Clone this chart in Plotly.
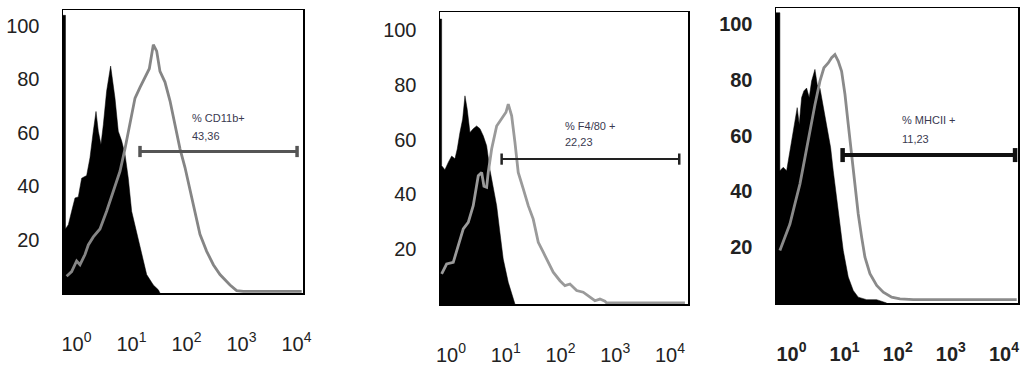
import plotly.graph_objects as go

# ---------------- data (x in decades, i.e. log10 fluorescence; y = % of max) -------------
p1_black_x = [-0.245, -0.2, -0.2, -0.148, -0.088, -0.027, 0.033, 0.094, 0.185, 0.245, 0.306, 0.355, 0.397,
              0.445, 0.488, 0.548, 0.621, 0.70, 0.76, 0.821, 0.882, 0.942, 1.003, 1.094, 1.185,
              1.276, 1.397, 1.488, 1.518]
p1_black_y = [104, 104, 24, 25.6, 30.6, 35.6, 36, 43, 44, 50.6, 60.6, 68, 60.6,
              55.6, 63, 75.6, 85, 73, 60.6, 57, 52, 43, 30.6, 23, 14.4,
              6.9, 3, 1.2, 0]
p1_gray_x = [-0.179, -0.088, 0.003, 0.064, 0.155, 0.215, 0.306, 0.427, 0.548, 0.67, 0.791, 0.882,
             0.973, 1.064, 1.155, 1.245, 1.324, 1.397, 1.458, 1.518, 1.609, 1.70, 1.791, 1.882,
             1.973, 2.064, 2.155, 2.245, 2.367, 2.488, 2.609, 2.791, 2.912, 3.033, 4.094]
p1_gray_y = [6.25, 8, 12, 10.6, 14.4, 18, 21, 24, 30.6, 38, 45.6, 54,
             63, 73, 77, 80.6, 84, 93, 90.6, 83, 79, 72, 63, 54,
             47, 39, 30.6, 22, 15.6, 10.6, 6.9, 3, 0.9, 0.6, 0.6]

p2_black_x = [-0.2, -0.17, -0.17, -0.11, -0.049, 0.013, 0.073, 0.115, 0.164, 0.214, 0.256, 0.298, 0.347,
              0.407, 0.469, 0.53, 0.59, 0.652, 0.712, 0.773, 0.835, 0.895, 0.955, 1.047,
              1.138, 1.169]
p2_black_y = [104, 104, 50.5, 49, 51.7, 54, 53, 56.6, 62.6, 67.5, 76, 71, 62.6,
              64, 65, 64, 61.4, 57.8, 49, 42, 35.9, 26, 16.4, 7.9,
              1.8, 0]
p2_gray_x = [-0.17, -0.079, 0.042, 0.133, 0.225, 0.316, 0.407, 0.499, 0.561, 0.603, 0.652, 0.681,
             0.743, 0.835, 0.926, 1.005, 1.047, 1.109, 1.169, 1.229, 1.321, 1.412, 1.503, 1.595,
             1.686, 1.777, 1.868, 1.991, 2.082, 2.174, 2.296, 2.416, 2.539, 2.63, 2.721, 2.813,
             2.844, 4.274]
p2_gray_y = [11, 14.6, 15.2, 21.3, 27.4, 29.8, 35.9, 46.8, 48, 43, 42.6, 48,
             56.6, 65, 67.5, 70, 73, 68.7, 59, 48, 42, 35.9, 31, 22.5,
             18.9, 15.2, 11.6, 8.5, 6.7, 7.3, 4.9, 4.3, 2.4, 1.2, 1.8, 1.0,
             0.4, 0.4]

p3_black_x = [-0.29, -0.217, -0.217, -0.154, -0.09, -0.041, 0.004, 0.066, 0.109, 0.147, 0.192, 0.235, 0.286,
              0.335, 0.38, 0.443, 0.486, 0.537, 0.599, 0.663, 0.738, 0.787, 0.851, 0.913,
              0.976, 1.07, 1.164, 1.258, 1.416, 1.605, 1.793]
p3_black_y = [104, 104, 47.4, 48.6, 47.4, 53.3, 58, 66.4, 70, 64, 73.6, 76, 77,
              73.6, 79.5, 83.7, 78.3, 77, 70, 64, 55.7, 47.4, 37.9, 28.3,
              18.8, 9.3, 4.5, 2.1, 1.2, 1.2, 0]
p3_gray_x = [-0.217, -0.122, -0.028, 0.066, 0.16, 0.254, 0.348, 0.443, 0.537, 0.612, 0.693, 0.757,
             0.819, 0.881, 0.945, 1.008, 1.07, 1.134, 1.196, 1.258, 1.322, 1.384, 1.478, 1.605,
             1.729, 1.887, 2.043, 2.294, 4.241]
p3_gray_y = [18.8, 23.6, 28.3, 35.5, 42.6, 52, 61.7, 71, 79.5, 84.3, 86, 87.9,
             89, 86.7, 83, 74.8, 64, 53.3, 42.6, 31.9, 23.6, 16.4, 10.5, 6.3,
             3.9, 2.1, 1.5, 1.2, 1.2]

# gates: [start decade, end decade], level, label lines
gate_x = [[1.155, 4.01], [0.926, 4.17], [0.964, 4.21]]
gate_y = [53, 52.9, 53]
gate_labels = [["% CD11b+", "43,36"], ["% F4/80 +", "22,23"], ["% MHCII +", "11,23"]]
label_pos = [[2.06, 65.5, 58.8], [2.05, 65, 59], [2.04, 65.6, 58.8]]

y_ticks = [20, 40, 60, 80, 100]
x_tickvals = [1, 10, 100, 1000, 10000]
x_ticktext = ["10<sup>0</sup>", "10<sup>1</sup>", "10<sup>2</sup>", "10<sup>3</sup>", "10<sup>4</sup>"]

# ---------------- layout geometry (screen pixels) ----------------
W, H = 1024, 368
frames = [(63, 303, 10, 293), (440, 688, 12, 304), (776, 1018, 8, 303)]
x_ranges = [[-0.245, 4.118], [-0.2, 4.33], [-0.29, 4.265]]
y_ranges = [[0, 106], [0, 106.6], [0, 105.7]]
gray_cols = ["#858585", "#9a9a9a", "#8a8a8a"]
gate_cols = ["#555555", "#222222", "#111111"]
gate_w = [3, 2, 4]
bold = [False, False, True]

blacks = [(p1_black_x, p1_black_y), (p2_black_x, p2_black_y), (p3_black_x, p3_black_y)]
grays = [(p1_gray_x, p1_gray_y), (p2_gray_x, p2_gray_y), (p3_gray_x, p3_gray_y)]

fig = go.Figure()
annotations = []
for i in range(3):
    xa = "x" if i == 0 else f"x{i+1}"
    ya = "y" if i == 0 else f"y{i+1}"
    bx, by = blacks[i]
    gx, gy = grays[i]
    fig.add_trace(go.Scatter(x=[10 ** v for v in bx], y=by, mode="lines", fill="tozeroy",
                             fillcolor="black", line=dict(color="black", width=0.5),
                             xaxis=xa, yaxis=ya, hoverinfo="skip", showlegend=False))
    fig.add_trace(go.Scatter(x=[10 ** v for v in gx], y=gy, mode="lines",
                             line=dict(color=gray_cols[i], width=2.8),
                             xaxis=xa, yaxis=ya, hoverinfo="skip", showlegend=False))
    g0, g1 = gate_x[i]
    fig.add_trace(go.Scatter(x=[10 ** g0, 10 ** g1], y=[gate_y[i], gate_y[i]], mode="lines+markers",
                             line=dict(color=gate_cols[i], width=gate_w[i]),
                             marker=dict(symbol="line-ns", size=8 if i < 2 else 10,
                                         line=dict(color=gate_cols[i], width=gate_w[i] + 0.5)),
                             xaxis=xa, yaxis=ya, hoverinfo="skip", showlegend=False))
    lx, ly1, ly2 = label_pos[i]
    for txt, yy in zip(gate_labels[i], [ly1, ly2]):
        annotations.append(dict(x=lx, y=yy, xref=xa, yref=ya, text=txt, showarrow=False,
                                xanchor="left", yanchor="middle",
                                font=dict(family="Liberation Sans, Arial", size=11, color="#3a3a50")))

    x0, x1, t, b = frames[i]
    tf_weight = 700 if bold[i] else 400
    xkey = "xaxis" if i == 0 else f"xaxis{i+1}"
    ykey = "yaxis" if i == 0 else f"yaxis{i+1}"
    fig.update_layout(**{
        xkey: dict(domain=[x0 / W, x1 / W], anchor=ya, type="log", range=x_ranges[i],
                   automargin=False,
                   tickvals=x_tickvals, ticktext=x_ticktext, showgrid=False, zeroline=False,
                   showline=True, mirror=True, linecolor="black", linewidth=1.5, ticks="",
                   ticklabelstandoff=32,
                   tickfont=dict(family="Liberation Sans, Arial", size=20, color="#222222",
                                 weight=tf_weight)),
        ykey: dict(domain=[(H - b) / H, (H - t) / H], anchor=xa, range=y_ranges[i],
                   automargin=False,
                   tickvals=y_ticks, showgrid=False, zeroline=False,
                   showline=True, mirror=True, linecolor="black", linewidth=1.5, ticks="",
                   ticklabelstandoff=18,
                   tickfont=dict(family="Liberation Sans, Arial", size=20, color="#222222",
                                 weight=tf_weight)),
    })

fig.update_layout(width=W, height=H, margin=dict(l=0, r=0, t=0, b=0, autoexpand=False),
                  paper_bgcolor="white", plot_bgcolor="white", annotations=annotations)
fig.write_html("out.html", config={"displayModeBar": False, "staticPlot": True},
               post_script="document.body.style.margin='0';document.documentElement.style.overflow='hidden';")
